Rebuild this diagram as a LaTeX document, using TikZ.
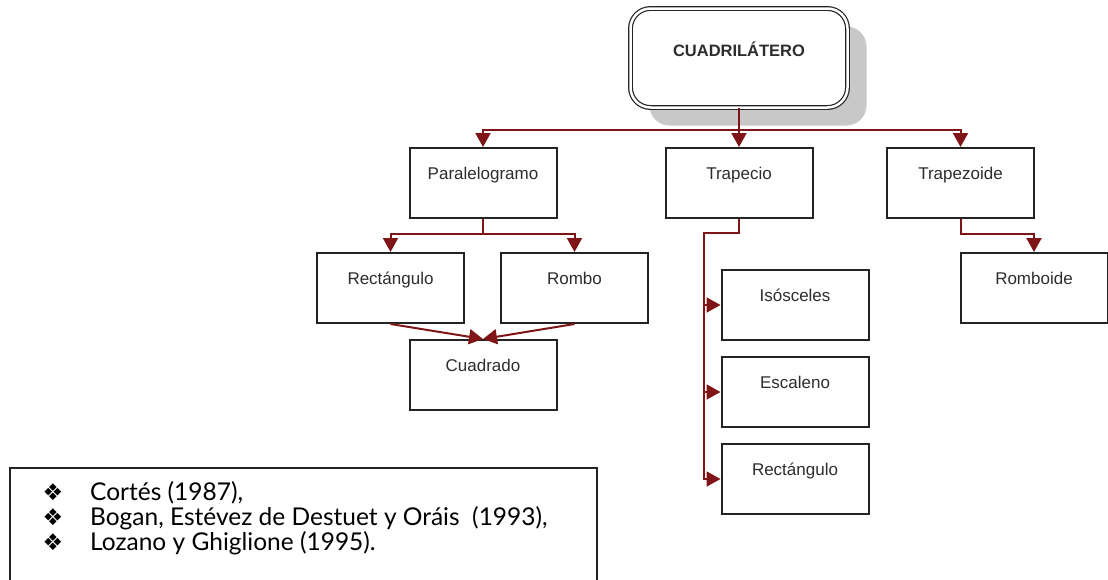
\documentclass[tikz,border=0pt]{standalone}
\usepackage{fontspec}
\setmainfont{Liberation Sans}
\newfontfamily\legendfont{Lato}
\newfontfamily\symfont{DejaVu Sans}
\usetikzlibrary{arrows.meta,shadows}

\definecolor{linkred}{RGB}{128,21,24}
\definecolor{boxline}{RGB}{35,35,35}
\definecolor{txt}{RGB}{45,45,45}
\definecolor{shade}{RGB}{200,200,200}

\begin{document}
\begin{tikzpicture}[x=1pt,y=-1pt,
  box/.style={draw=boxline, line width=2pt, fill=white, rectangle,
    minimum width=147pt, inner xsep=0pt, inner ysep=0pt,
    text height=31pt, text depth=39pt, anchor=north, text=txt,
    font=\fontsize{17}{20}\selectfont},
  rootbox/.style={draw=boxline, line width=1.2pt, double=white,
    double distance=2.5pt, rounded corners=20pt, fill=white,
    minimum width=217pt, inner xsep=0pt, inner ysep=0pt,
    text height=48pt, text depth=51pt, text=txt,
    font=\fontsize{16.5}{20}\selectfont\bfseries,
    drop shadow={shadow xshift=19pt, shadow yshift=-18pt, fill=shade, opacity=1}},
  link/.style={draw=linkred, line width=2pt, line join=miter,
    -{Triangle[length=14pt,width=15pt]}},
  bullet/.style={text=black, font=\symfont\fontsize{23}{24}\selectfont, inner sep=0pt, anchor=base},
  ref/.style={text=black, font=\legendfont\fontsize{24.5}{26}\selectfont, inner sep=0pt, anchor=base west},
]
\useasboundingbox (0,0) rectangle (1108,579);

% root
\node[rootbox] (root) at (739,58) {CUADRILÁTERO};

% first level
\node[box] (para) at (483,147) {Paralelogramo};
\node[box] (trap) at (739,147) {Trapecio};
\node[box] (tz)   at (960.5,147) {Trapezoide};

% parallelogram family
\node[box] (rect)  at (390.5,252) {Rectángulo};
\node[box] (rombo) at (574.5,252) {Rombo};
\node[box] (cuad)  at (483,339) {Cuadrado};

% trapezium family
\node[box] (iso)   at (795,269) {Isósceles};
\node[box] (esc)   at (795,356) {Escaleno};
\node[box] (rect2) at (795,443) {Rectángulo};

% trapezoid family
\node[box] (rmb) at (1034,252) {Romboide};

% junction points
\coordinate (hub) at (739,130);
\coordinate (pj)  at (483,234);
\coordinate (tj)  at (704,233);
\coordinate (zj)  at (960.5,234);

% connectors
\draw[link] (root.south) -- (trap.north);
\draw[link] (hub) -| (para.north);
\draw[link] (hub) -| (tz.north);

\draw[link] (para.south) -- (pj) -| (rect.north);
\draw[link] (pj) -| (rombo.north);
\draw[link] (rect.south) -- (cuad.north);
\draw[link] (rombo.south) -- (cuad.north);

\draw[link] (trap.south) |- (tj) |- (rect2.west);
\draw[link] (tj |- iso.west) -- (iso.west);
\draw[link] (tj |- esc.west) -- (esc.west);

\draw[link] (tz.south) -- (zj) -| (rmb.north);

% reference list
\draw[draw=boxline, line width=1.3pt] (10,585) -- (10,468) -- (597,468) -- (597,585);
\node[bullet] (b1) at (53,500) {❖};
\node[bullet] (b2) at (53,525) {❖};
\node[bullet] (b3) at (53,550) {❖};
\node[ref] (r1) at (90,500) {Cortés (1987),};
\node[ref] (r2) at (90,525) {Bogan, Estévez de Destuet y Oráis~~(1993),};
\node[ref] (r3) at (90,550) {Lozano y Ghiglione (1995).};
\end{tikzpicture}
\end{document}
